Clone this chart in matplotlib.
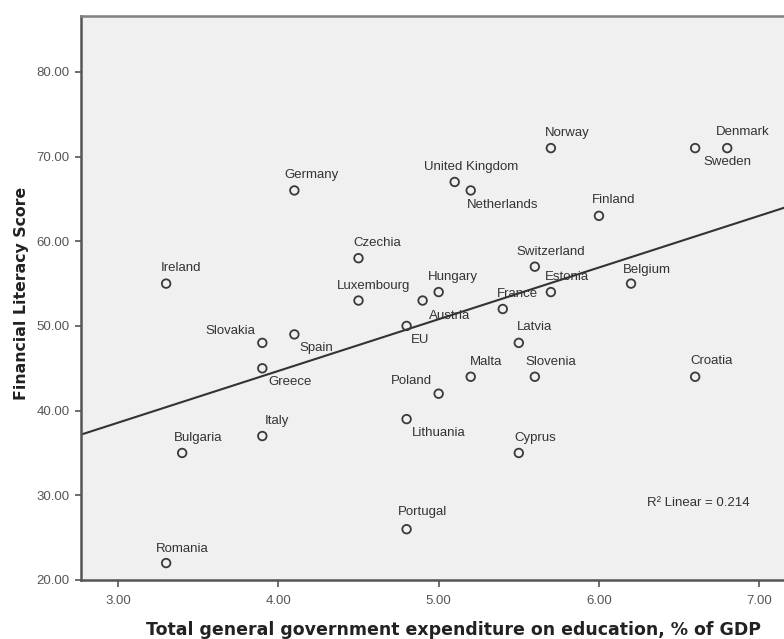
'''
Streudiagramm: Financial Literacy Score gegen Bildungsausgaben (% des BIP)
mit linearer Regressionsgeraden.
'''

# Bibliotheken
import matplotlib.pyplot as plt
import numpy as np

# Daten
laender = ['Romania', 'Bulgaria', 'Ireland', 'Slovakia', 'Greece', 'Italy',
           'Spain', 'Germany', 'Czechia', 'Luxembourg', 'Austria', 'Hungary',
           'EU', 'France', 'Estonia', 'Switzerland', 'Latvia', 'United Kingdom',
           'Netherlands', 'Norway', 'Finland', 'Poland', 'Malta', 'Slovenia',
           'Lithuania', 'Cyprus', 'Sweden', 'Denmark', 'Belgium', 'Croatia',
           'Portugal']
ausgaben = [3.3, 3.4, 3.3, 3.9, 3.9, 3.9,
            4.1, 4.1, 4.5, 4.5, 4.9, 5.0,
            4.8, 5.4, 5.7, 5.6, 5.5, 5.1,
            5.2, 5.7, 6.0, 5.0, 5.2, 5.6,
            4.8, 5.5, 6.6, 6.8, 6.2, 6.6,
            4.8]
score = [22, 35, 55, 48, 45, 37,
         49, 66, 58, 53, 53, 54,
         50, 52, 54, 57, 48, 67,
         66, 71, 63, 42, 44, 44,
         39, 35, 71, 71, 55, 44,
         26]

y_ticks = [20, 30, 40, 50, 60, 70, 80]
x_ticks = [3, 4, 5, 6, 7]

# Versatz der Beschriftungen (Pixel, dy positiv = nach oben)
versatz = [(16, 14), (16, 15), (15, 16), (-32, 12), (28, -14), (15, 15),
           (22, -14), (17, 15), (19, 15), (15, 15), (27, -15), (14, 15),
           (13, -14), (15, 15), (16, 15), (16, 15), (16, 16), (16, 15),
           (32, -15), (16, 15), (15, 16), (-27, 13), (15, 15), (16, 15),
           (32, -14), (16, 15), (32, -14), (15, 16), (16, 14), (16, 16),
           (16, 17)]

# Regression
x = np.array(ausgaben)
y = np.array(score)
m, b = np.polyfit(x, y, 1)
r2 = np.corrcoef(x, y)[0, 1] ** 2

# Plot erstellen
fig = plt.figure(figsize=(7.84, 6.39), dpi=100)
ax = fig.add_axes([81 / 784, 1 - 580 / 639, (825 - 81) / 784, (580 - 16) / 639])
ax.set_facecolor('#f0f0f0')

x_min, x_max = 2.769, 7.41
ax.set_xlim(x_min, x_max)
ax.set_ylim(20, 86.6)

# Regressionsgerade
xs = np.array([x_min, x_max])
ax.plot(xs, m * xs + b, color='#333333', lw=1.5, zorder=2)

# Punkte
ax.scatter(x, y, s=38, facecolors='none', edgecolors='#3a3a3a',
           linewidths=1.3, zorder=3)

for name, xi, yi, (dx, dy) in zip(laender, ausgaben, score, versatz):
    ax.annotate(name, (xi, yi), xytext=(dx, dy), textcoords='offset pixels',
                ha='center', va='center', fontsize=9.5,
                family='Liberation Sans', color='#333333', zorder=4)

ax.text(6.30, 29.1, 'R² Linear = %.3f' % r2, ha='left', va='center',
        fontsize=9.5, family='Liberation Sans', color='#333333')

# Achsen
ax.set_xticks(x_ticks)
ax.set_yticks(y_ticks)
ax.set_xticklabels(['%.2f' % t for t in x_ticks], family='Liberation Sans',
                   fontsize=9.5, color='#555555')
ax.set_yticklabels(['%.2f' % t for t in y_ticks], family='Liberation Sans',
                   fontsize=9.5, color='#555555')
ax.tick_params(axis='y', direction='out', length=4, width=1.2,
               color='#555555', pad=4)
ax.tick_params(axis='x', direction='out', length=5, width=1.2,
               color='#555555', pad=6)

for seite in ['left', 'bottom']:
    ax.spines[seite].set_color('#555555')
    ax.spines[seite].set_linewidth(1.8)
for seite in ['top', 'right']:
    ax.spines[seite].set_color('#808080')
    ax.spines[seite].set_linewidth(1.8)

ax.set_xlabel('Total general government expenditure on education, % of GDP',
              fontsize=12.5, fontweight='bold', family='DejaVu Sans',
              color='#222222')
ax.set_ylabel('Financial Literacy Score', fontsize=11.3, fontweight='bold',
              family='DejaVu Sans', color='#222222')
ax.xaxis.set_label_coords(0.5, -(621 - 580) / 564)
ax.yaxis.set_label_coords(-(81 - 29) / 744, 0.508)

# Grafik speichern
fig.savefig('out.png', dpi=100)
